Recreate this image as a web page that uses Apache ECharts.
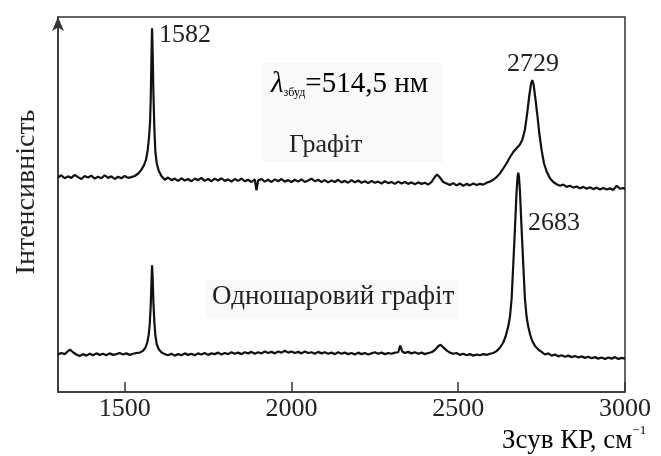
<!DOCTYPE html>
<html>
<head>
<meta charset="utf-8">
<script src="https://cdn.jsdelivr.net/npm/echarts@6/dist/echarts.min.js"></script>
<style>
  html, body { margin: 0; padding: 0; background: #fff; }
  #chart { width: 661px; height: 456px; }
</style>
</head>
<body>
<div id="chart"></div>
<script>
// зсув КР, см-1 / інтенсивність (умовні одиниці)
var xTicks = [1500, 2000, 2500, 3000];

var graphite = [
  [1300,57.2],[1310,57.8],[1320,57.0],[1330,57.5],[1340,57.1],[1350,57.9],[1360,57.3],[1370,56.8],
  [1380,57.6],[1390,57.2],[1400,57.7],[1410,56.9],[1420,57.4],[1430,57.0],[1440,57.8],[1450,57.1],
  [1460,57.5],[1470,56.8],[1480,57.4],[1490,57.0],[1500,57.6],[1510,57.1],[1520,57.3],[1530,57.6],
  [1540,58.2],[1550,59.3],[1558,60.5],[1564,62.0],[1569,64.5],[1573,68.0],[1576,72.0],[1578,78.0],
  [1580,88.0],[1582,97.0],[1584,90.0],[1586,80.0],[1589,70.0],[1592,64.0],[1596,61.0],[1602,59.0],
  [1610,57.6],[1620,56.6],[1630,57.2],[1640,56.5],[1650,56.9],[1660,56.3],[1670,57.0],[1680,56.4],
  [1690,56.8],[1700,56.2],[1710,56.9],[1720,56.5],[1730,57.1],[1740,56.3],[1750,56.8],[1760,56.2],
  [1770,56.9],[1780,56.4],[1790,57.0],[1800,56.3],[1810,56.7],[1820,56.1],[1830,56.8],[1840,56.3],
  [1850,56.9],[1860,56.2],[1870,56.6],[1880,56.0],[1890,56.7],[1895,53.8],[1900,56.4],[1910,56.8],
  [1920,56.1],[1930,56.6],[1940,56.0],[1950,56.7],[1960,56.2],[1970,56.8],[1980,56.1],[1990,56.5],
  [2000,56.0],[2010,56.6],[2020,56.1],[2030,56.7],[2040,56.0],[2050,56.4],[2060,56.9],[2070,56.2],
  [2080,56.6],[2090,56.0],[2100,56.5],[2110,55.9],[2120,56.4],[2130,56.0],[2140,56.6],[2150,55.9],
  [2160,56.3],[2170,55.8],[2180,56.5],[2190,55.9],[2200,56.4],[2210,55.8],[2220,56.2],[2230,55.7],
  [2240,56.3],[2250,55.8],[2260,56.1],[2270,55.6],[2280,56.2],[2290,55.7],[2300,56.0],[2310,55.5],
  [2320,56.1],[2330,55.6],[2340,56.0],[2350,55.5],[2360,55.9],[2370,55.4],[2380,55.9],[2390,55.5],
  [2400,55.8],[2410,55.3],[2420,56.0],[2430,57.4],[2437,58.0],[2445,57.2],[2455,56.0],[2465,55.6],
  [2475,55.2],[2485,55.7],[2495,55.1],[2505,55.6],[2515,55.0],[2525,55.5],[2535,55.1],[2545,55.6],
  [2555,55.2],[2565,55.5],[2575,55.3],[2585,55.8],[2595,56.1],[2605,56.6],[2615,57.3],[2625,58.3],
  [2635,59.6],[2645,61.0],[2655,62.6],[2665,64.0],[2675,65.0],[2685,66.0],[2692,67.2],[2700,70.0],
  [2707,74.5],[2713,79.0],[2718,82.0],[2722,83.2],[2726,82.0],[2731,78.5],[2737,74.0],[2743,69.0],
  [2750,64.5],[2757,61.0],[2765,58.8],[2775,57.0],[2785,56.0],[2795,55.4],[2805,55.0],[2815,55.3],
  [2825,54.7],[2835,55.0],[2845,54.5],[2855,54.8],[2865,54.3],[2875,54.7],[2885,54.2],[2895,54.6],
  [2905,54.1],[2915,54.5],[2925,54.0],[2935,54.4],[2945,54.0],[2955,54.3],[2965,53.9],[2975,55.0],
  [2985,54.2],[2995,54.4],[3000,54.1]
];

var monolayer = [
  [1300,10.0],[1310,10.4],[1320,10.1],[1330,10.9],[1336,11.3],[1345,10.6],[1355,10.0],[1365,9.6],
  [1375,10.1],[1385,9.7],[1395,10.2],[1405,9.8],[1415,10.3],[1425,9.9],[1435,10.2],[1445,9.8],
  [1455,10.3],[1465,9.9],[1475,10.1],[1485,10.4],[1495,10.0],[1505,10.3],[1515,9.9],[1525,10.2],
  [1535,10.4],[1545,10.5],[1555,11.0],[1562,11.8],[1568,13.3],[1572,15.3],[1575,18.0],[1578,23.0],
  [1580,28.5],[1582,33.8],[1584,30.0],[1586,24.0],[1589,18.5],[1592,15.0],[1596,12.8],[1602,11.4],
  [1610,10.6],[1620,10.1],[1630,9.8],[1640,10.2],[1650,9.7],[1660,10.1],[1670,9.8],[1680,10.3],
  [1690,9.9],[1700,10.2],[1710,9.8],[1720,10.3],[1730,10.0],[1740,10.4],[1750,9.9],[1760,10.3],
  [1770,10.1],[1780,10.5],[1790,10.0],[1800,10.4],[1810,10.1],[1820,10.6],[1830,10.2],[1840,10.5],
  [1850,10.1],[1860,10.6],[1870,10.3],[1880,10.7],[1890,10.2],[1900,10.6],[1910,10.3],[1920,10.8],
  [1930,10.4],[1940,10.7],[1950,10.3],[1960,10.8],[1970,10.5],[1980,11.0],[1990,10.5],[2000,10.8],
  [2010,10.4],[2020,10.7],[2030,10.3],[2040,10.8],[2050,10.4],[2060,10.6],[2070,10.2],[2080,10.7],
  [2090,10.3],[2100,10.6],[2110,10.2],[2120,10.5],[2130,10.1],[2140,10.6],[2150,10.2],[2160,10.5],
  [2170,10.1],[2180,10.4],[2190,10.0],[2200,10.5],[2210,10.1],[2220,10.4],[2230,10.0],[2240,10.3],
  [2250,10.6],[2260,10.2],[2270,10.5],[2280,10.1],[2290,10.4],[2300,10.2],[2310,10.5],[2320,10.6],
  [2326,12.4],[2332,10.8],[2340,10.4],[2350,10.7],[2360,10.3],[2370,10.6],[2380,10.2],[2390,10.5],
  [2400,10.1],[2410,10.4],[2420,10.6],[2430,11.2],[2440,12.2],[2447,12.6],[2455,11.9],[2465,11.1],
  [2475,10.5],[2485,10.2],[2495,10.4],[2505,9.9],[2515,10.2],[2525,9.8],[2535,10.1],[2545,9.7],
  [2555,10.0],[2565,9.8],[2575,10.1],[2585,9.9],[2595,10.2],[2605,10.4],[2615,10.9],[2625,11.8],
  [2635,13.2],[2642,14.8],[2650,17.5],[2655,20.0],[2660,24.8],[2665,34.0],[2670,43.5],[2675,53.6],
  [2678,57.5],[2680,58.5],[2682,57.5],[2685,53.6],[2690,43.5],[2695,34.0],[2700,24.8],[2705,20.0],
  [2710,17.4],[2716,15.2],[2722,13.6],[2730,12.3],[2740,11.3],[2750,10.7],[2760,10.0],[2770,10.3],
  [2780,9.7],[2790,10.0],[2800,9.5],[2810,9.8],[2820,9.4],[2830,9.7],[2840,9.3],[2850,9.6],
  [2860,9.2],[2870,9.5],[2880,9.1],[2890,9.4],[2900,9.0],[2910,9.3],[2920,8.9],[2930,9.2],
  [2940,8.8],[2950,9.2],[2960,8.9],[2970,9.3],[2980,8.8],[2990,9.1],[3000,8.9]
];

var serif = 'Liberation Serif';
var ink = '#222';

var myChart = echarts.init(document.getElementById('chart'), null, {renderer: 'canvas'});
var option = {
    backgroundColor: '#fff',
    animation: false,
    grid: {
        left: 58,
        right: 36,
        top: 17,
        bottom: 64,
        show: true,
        borderColor: '#333',
        borderWidth: 1.5,
        backgroundColor: 'transparent'
    },
    xAxis: {
        type: 'value',
        min: 1300,
        max: 3000,
        axisLine: {
            show: true,
            lineStyle: {color: '#333', width: 1.5}
        },
        axisTick: {
            show: true,
            inside: true,
            length: 10,
            customValues: xTicks,
            lineStyle: {color: '#333', width: 1.5}
        },
        axisLabel: {
            customValues: xTicks,
            formatter: function (v) { return String(v); },
            margin: 4,
            color: ink,
            fontFamily: serif,
            fontSize: 26
        },
        splitLine: {show: false}
    },
    yAxis: {
        type: 'value',
        min: 0,
        max: 100,
        axisLine: {
            show: true,
            symbol: ['none', 'arrow'],
            symbolSize: [9, 14],
            symbolOffset: [0, 0],
            lineStyle: {color: '#333', width: 1.5}
        },
        axisTick: {show: false},
        axisLabel: {show: false},
        splitLine: {show: false}
    },
    graphic: [
        {type: 'rect', z: 0, shape: {x: 263, y: 63, width: 180, height: 100}, style: {fill: '#f9f9f9'}},
        {type: 'rect', z: 0, shape: {x: 205, y: 280, width: 252, height: 38}, style: {fill: '#f9f9f9'}},
        {type: 'text', z: 10, left: 159, top: 36 - 14,
            style: {text: '1582', font: '26px "Liberation Serif"', fill: ink}},
        {type: 'text', z: 10, left: 507, top: 65 - 14,
            style: {text: '2729', font: '26px "Liberation Serif"', fill: ink}},
        {type: 'text', z: 10, left: 528, top: 224 - 14,
            style: {text: '2683', font: '26px "Liberation Serif"', fill: ink}},
        {type: 'text', z: 10, left: 271, top: 70,
            style: {
                text: '{l|λ}{s|збуд}{m|=514,5 нм}',
                rich: {
                    l: {fontFamily: serif, fontStyle: 'italic', fontSize: 29, color: ink, verticalAlign: 'bottom', lineHeight: 30},
                    s: {fontFamily: serif, fontSize: 12, color: ink, verticalAlign: 'bottom', lineHeight: 22},
                    m: {fontFamily: serif, fontSize: 29, color: ink, verticalAlign: 'bottom', lineHeight: 30}
                }
            }},
        {type: 'text', z: 10, left: 289, top: 146 - 14,
            style: {text: 'Графіт', font: '26px "Liberation Serif"', fill: ink}},
        {type: 'text', z: 10, left: 212, top: 298 - 15,
            style: {text: 'Одношаровий графіт', font: '27px "Liberation Serif"', fill: ink}},
        {type: 'text', z: 10, left: 502, top: 439 - 15,
            style: {
                text: '{m|Зсув КР, см}{p|−1}',
                rich: {
                    m: {fontFamily: serif, fontSize: 27, color: ink, verticalAlign: 'bottom', lineHeight: 30},
                    p: {fontFamily: serif, fontSize: 13, color: ink, verticalAlign: 'top', lineHeight: 30}
                }
            }},
        {type: 'text', z: 10, x: 27, y: 192, rotation: Math.PI / 2,
            style: {text: 'Інтенсивність', font: '28px "Liberation Serif"', fill: ink, align: 'center', verticalAlign: 'middle'}}
    ],
    series: [
        {
            name: 'Графіт',
            type: 'line',
            data: graphite,
            showSymbol: false,
            lineStyle: {color: '#111', width: 2.2},
            z: 5
        },
        {
            name: 'Одношаровий графіт',
            type: 'line',
            data: monolayer,
            showSymbol: false,
            lineStyle: {color: '#111', width: 2.2},
            z: 5
        }
    ]
};
myChart.setOption(option);
</script>
</body>
</html>
